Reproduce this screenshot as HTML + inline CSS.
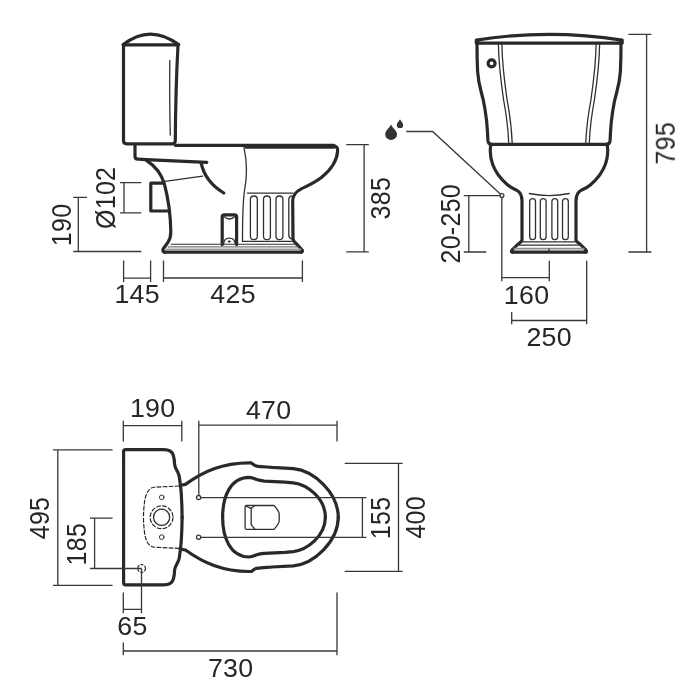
<!DOCTYPE html>
<html lang="en">
<head>
<meta charset="utf-8">
<title>WC dimensions</title>
<style>
html,body{margin:0;padding:0;background:#fff;}
body{width:700px;height:700px;overflow:hidden;}
svg{display:block;}
.k{fill:none;stroke:#292929;stroke-width:3.2;stroke-linecap:round;stroke-linejoin:round;}
.m{fill:none;stroke:#1d1d1b;stroke-width:1.4;stroke-linecap:round;stroke-linejoin:round;}
.t{fill:none;stroke:#303030;stroke-width:1.3;stroke-linecap:round;stroke-linejoin:round;}
.d{fill:none;stroke:#383838;stroke-width:1.3;}
.ds{fill:none;stroke:#222;stroke-width:1.15;stroke-dasharray:4.6 1.4;}
text{font-family:"Liberation Sans",sans-serif;font-size:25px;fill:#262626;letter-spacing:0.3px;}
</style>
</head>
<body>
<svg width="700" height="700" viewBox="0 0 700 700">
<rect width="700" height="700" fill="#fff"/>

<!-- ================= SIDE VIEW ================= -->
<g id="side">
  <!-- tank -->
  <path class="k" d="M123.2 44.6 Q150 23.5 178.6 44.6"/>
  <path class="k" d="M123.2 44.8 H178.6"/>
  <path class="k" d="M123.5 45 V140.8 Q123.5 143.8 126.8 143.8 H172.4 Q175.2 143.8 175.3 140.8 Q175.6 90 178 45"/>
  <path class="t" d="M169.8 60.5 Q169.4 100 170.3 135"/>
  <!-- rim -->
  <path class="k" d="M175.4 145.3 H334"/>
  <path class="k" d="M246 147.1 H334"/>
  <path class="k" d="M334 146.2 Q338 146.4 337.6 151 C337.2 160 333 168 321.4 177.6 C313 184 305 187 300.8 189.1 C296 191.6 292.9 195 292.7 200.7 L293 239 C293.4 241.6 295 242.6 297.2 244.6 L302.2 250 Q303.2 252.1 301 252.1"/>
  <!-- under tank -->
  <path class="k" d="M135 145.5 V156.4 Q135 159 138 159.2 L146.2 159.7 L206.8 162.3"/>
  <path class="k" d="M146.4 160.4 C156 166.5 161.5 174.5 164.4 184 C167.8 197 170.6 214 170.8 231.4 C170.8 236 170.2 238.5 168.4 241.4 C166.8 244.4 164.4 246.8 163 249.2 Q162.2 252.1 165 252.1"/>
  <!-- outlet pipe -->
  <path class="k" d="M162.6 183.2 H150.8 V211 H169.6"/>
  <path class="t" d="M165 181.4 L202.6 176.1"/>
  <path class="k" d="M201.2 163.4 Q205.4 182 223.8 193"/>
  <!-- inner thin contour -->
  <path class="t" d="M244 147.6 C247.4 163 247.2 176 244.6 190 C243 200 242.5 210 242.5 241.4 H293"/>
  <!-- flutes -->
  <path class="t" d="M247.4 193.1 H293"/>
  <rect class="t" x="250.4" y="196" width="6.9" height="43.6" rx="3.45"/>
  <rect class="t" x="263.5" y="196" width="6.9" height="43.6" rx="3.45"/>
  <rect class="t" x="276" y="196" width="6.9" height="43.6" rx="3.45"/>
  <path class="t" d="M291.6 239 Q288.8 238 288.8 235 V199.5 Q288.8 196.4 291.6 195.8"/>
  <!-- bolt cover -->
  <path class="k" d="M222.2 244.6 V216.8 Q222.2 214.8 224.2 214.8 H234.6 Q236.6 214.8 236.6 216.8 V244.6"/>
  <path class="t" d="M223.8 216.6 Q229.4 221.4 235 216.6"/>
  <path class="t" d="M223.6 244 Q224 238.2 229.4 238.2 Q234.8 238.2 235.2 244"/>
  <ellipse cx="229.2" cy="241.5" rx="1.5" ry="1" fill="#222"/>
  <!-- base -->
  <path class="t" style="stroke-width:1.1" d="M171.2 244.3 H296"/>
  <path class="t" style="stroke-width:1;stroke:#555" d="M168 246.9 H299"/>
  <path d="M165.4 249.3 H301.4" fill="none" stroke="#a0a0a0" stroke-width="1.6"/>
  <path class="k" d="M164 252.1 H301.6"/>
</g>

<!-- side dims -->
<g class="d">
  <path d="M73.3 197.4 H87 M78.3 197.4 V251.5 M73.3 251.5 H141.3"/>
  <path d="M120 182.7 H141.3 M120 212.8 H141.3 M124 182.7 V212.8"/>
  <path d="M123.6 260.6 V282 M150.6 260.6 V282 M123.6 278.1 H150.6"/>
  <path d="M163.5 260.6 V282 M302.4 260.6 V282 M163.5 278 H302.4"/>
  <path d="M346.3 144.6 H368.8 M346.3 251.8 H368.8 M364.1 144.6 V251.8"/>
</g>

<!-- ================= FRONT VIEW ================= -->
<g id="front">
  <path class="k" d="M476.3 40.2 Q549.2 28.4 622.2 40.2 V43.1 H476.3 Z"/>
  <g id="fh">
    <path class="k" d="M477 44 C477 55 477.2 63 477.6 71.4 C478.2 80 479.5 86 481.2 92 C483 98 484.2 104 485.1 110 C486.4 118 487.2 125 487.5 132.1 L487.9 140.4 Q488.2 144.2 491.4 144.3"/>
    <path class="t" d="M498.4 44.5 C498.6 60 500 75 503.6 100 C505.5 110 508 125 508.7 143"/>
    <path class="t" d="M501.9 44.5 C502.1 60 503.5 75 507.1 100 C509 110 511.5 125 512.2 143"/>
    <path class="k" d="M490.6 146 C489.8 152 490.4 158 492.6 164.3 C495 171 499.5 178 507.4 184.8 C511 187.8 514 189 516.9 190.4 C520.4 192 521.8 194.4 522 200.7 V240.4 C521.4 241.8 520 242.6 518.1 244 L512 250.2 Q510.4 252.1 513 252.1"/>
    <rect class="t" x="529.7" y="198.6" width="5.8" height="41" rx="2.9"/>
    <rect class="t" x="540.3" y="198.6" width="5.8" height="41" rx="2.9"/>
  </g>
  <g transform="translate(1098 0) scale(-1 1)">
    <path class="k" d="M477 44 C477 55 477.2 63 477.6 71.4 C478.2 80 479.5 86 481.2 92 C483 98 484.2 104 485.1 110 C486.4 118 487.2 125 487.5 132.1 L487.9 140.4 Q488.2 144.2 491.4 144.3"/>
    <path class="t" d="M498.4 44.5 C498.6 60 500 75 503.6 100 C505.5 110 508 125 508.7 143"/>
    <path class="t" d="M501.9 44.5 C502.1 60 503.5 75 507.1 100 C509 110 511.5 125 512.2 143"/>
    <path class="k" d="M490.6 146 C489.8 152 490.4 158 492.6 164.3 C495 171 499.5 178 507.4 184.8 C511 187.8 514 189 516.9 190.4 C520.4 192 521.8 194.4 522 200.7 V240.4 C521.4 241.8 520 242.6 518.1 244 L512 250.2 Q510.4 252.1 513 252.1"/>
    <rect class="t" x="529.7" y="198.6" width="5.8" height="41" rx="2.9"/>
    <rect class="t" x="540.3" y="198.6" width="5.8" height="41" rx="2.9"/>
  </g>
  <circle class="k" cx="491.6" cy="63.3" r="3.5"/>
  <path class="k" d="M490 144.3 H608"/>
  <path class="t" d="M529.2 193.5 Q549 197.6 569.2 193.5"/>
  <path class="t" d="M521.4 241.8 H576.6"/>
  <path class="t" d="M516.4 245.1 H581.6"/>
  <path d="M513.6 248.7 H584.4" fill="none" stroke="#8f8f8f" stroke-width="1.8"/>
  <path class="k" d="M512 252.1 H586"/>
  <path class="t" d="M549 249 V251"/>
</g>
<g class="d">
  <path d="M628.4 34.4 H651.4 M628.4 252 H651.4 M646.6 34.4 V252"/>
  <path d="M406.2 131.5 H432.6 L500.6 194.2"/>
  <circle cx="502" cy="195.6" r="1.9"/>
  <path d="M463.8 195.6 H500 M463.8 252 H486.3 M468.8 195.6 V252"/>
  <path d="M501.8 197.5 V281.3 M549.3 260.8 V281.3 M501.8 277.6 H549.3"/>
  <path d="M511.7 312 V324.3 M586.7 260.8 V324.3 M511.7 320.5 H586.7"/>
</g>
<path d="M391 124.6 C393 128.4 397 131.2 397 134.2 A5.9 5.9 0 0 1 385.2 134.2 C385.2 131.2 389 128.4 391 124.6 Z" fill="#333"/>
<path d="M400 119.2 C401.1 121.4 403.2 123 403.2 124.9 A3.2 3.2 0 0 1 396.8 124.9 C396.8 123 398.9 121.4 400 119.2 Z" fill="#333"/>

<!-- ================= PLAN VIEW ================= -->
<g id="plan">
  <g id="ph">
    <path class="k" d="M123.6 517.6 V451.6 Q123.6 449.6 125.6 449.6 H163.8 C168.8 449.6 172 451.4 173.2 455 C174.2 458 174.5 461 174.6 464.2 C174.8 466.4 175.4 467.6 176.1 468.9 L178 472.6 C178.8 474.4 179.2 475.8 179.4 477.3 L180.2 483.7 C180.8 487.5 181.1 491 181.3 494 L181.9 506.8 L182.1 517.6"/>
    <path class="k" d="M180.4 485.3 L185.4 484.4 C203 472 222 462.4 251.4 462.9 C253.6 464.6 254.6 465.6 256.7 466.1 C262 466.8 268 467 272.1 467.4 L293.3 468.6 C314 470.5 338.3 493 338.3 517.6"/>
    <path class="k" d="M222.6 517.6 C222.6 497 230 477.6 249 477.4 C252 477.6 254.4 478.6 256.7 479.6 C259.4 480.6 262 480.9 264.4 481.1 L285 482.1 L293.3 482.8 C307 484.4 325.4 498 325.4 517.6"/>
    <path class="ds" d="M179.3 486 L154 487.2 C151 487.6 148.6 489.6 147.1 492.7 C145.4 496.4 144.6 500 144.3 504.3 C143.8 508 143.5 512 143.5 517.2"/>
    <circle class="t" cx="161.7" cy="497.3" r="2.3" style="stroke-width:1"/>
  </g>
  <g transform="translate(0 1034.4) scale(1 -1)">
    <path class="k" d="M123.6 517.6 V451.6 Q123.6 449.6 125.6 449.6 H163.8 C168.8 449.6 172 451.4 173.2 455 C174.2 458 174.5 461 174.6 464.2 C174.8 466.4 175.4 467.6 176.1 468.9 L178 472.6 C178.8 474.4 179.2 475.8 179.4 477.3 L180.2 483.7 C180.8 487.5 181.1 491 181.3 494 L181.9 506.8 L182.1 517.6"/>
    <path class="k" d="M180.4 485.3 L185.4 484.4 C203 472 222 462.4 251.4 462.9 C253.6 464.6 254.6 465.6 256.7 466.1 C262 466.8 268 467 272.1 467.4 L293.3 468.6 C314 470.5 338.3 493 338.3 517.6"/>
    <path class="k" d="M222.6 517.6 C222.6 497 230 477.6 249 477.4 C252 477.6 254.4 478.6 256.7 479.6 C259.4 480.6 262 480.9 264.4 481.1 L285 482.1 L293.3 482.8 C307 484.4 325.4 498 325.4 517.6"/>
    <path class="ds" d="M179.3 486 L154 487.2 C151 487.6 148.6 489.6 147.1 492.7 C145.4 496.4 144.6 500 144.3 504.3 C143.8 508 143.5 512 143.5 517.2"/>
    <circle class="t" cx="161.7" cy="497.3" r="2.3" style="stroke-width:1"/>
  </g>
  <!-- outlet -->
  <path class="t" d="M246.6 505.5 H274 Q277.6 509 279.2 513.4 V521.4 Q277.6 526 274 529.4 H246.6 Q245.1 529.4 245.1 527.9 V507 Q245.1 505.5 246.6 505.5 Z"/>
  <path class="t" d="M251.2 508.6 V524.6 L254.8 529.2 M245.8 506 L251.2 508.6 L254.4 505.7"/>
  <circle class="ds" cx="161.6" cy="517.3" r="11.4"/>
  <circle class="t" cx="161.6" cy="517.3" r="8.1"/>
  <circle class="ds" cx="141.6" cy="568.5" r="3.9" style="stroke-dasharray:3 1.2"/>
</g>
<g class="d">
  <circle cx="198.6" cy="497.6" r="2.1"/>
  <circle cx="198.6" cy="537.3" r="2.1"/>
  <path d="M200.7 497.6 H366.4 M200.7 537.3 H366.4 M362.4 497.6 V537.3"/>
  <path d="M123.3 420.7 V441.4 M181.8 420.7 V441.4 M123.3 425.6 H181.8"/>
  <path d="M198.8 420.7 V495.5 M337 420.7 V441.4 M198.8 425.2 H337"/>
  <path d="M344.7 463.3 H402.6 M344.7 571.3 H402.6 M398.5 463.3 V571.3"/>
  <path d="M53 449.8 H112.6 M53 585.3 H112.6 M57.8 449.8 V585.3"/>
  <path d="M90 518.1 H112.6 M90 568.5 H141.6 M94.6 518.1 V568.5"/>
  <path d="M141.5 568.5 V613.3 M123.3 592.6 V613.3 M123.3 609.3 H141.5"/>
  <path d="M123.3 642.6 V655.3 M337 592.6 V655.3 M123.3 651 H337"/>
</g>
<g id="labels" style="filter:grayscale(1)">
<text transform="translate(114.38 302.8) scale(1.07 1)">145</text>
<text transform="translate(210.28 302.6) scale(1.07 1)">425</text>
<text transform="translate(503.78 303.5) scale(1.07 1)">160</text>
<text transform="translate(526.38 345.9) scale(1.07 1)">250</text>
<text transform="translate(129.88 417.2) scale(1.07 1)">190</text>
<text transform="translate(245.88 418.7) scale(1.07 1)">470</text>
<text transform="translate(117.34 634.7) scale(1.07 1)">65</text>
<text transform="translate(207.88 677) scale(1.07 1)">730</text>
<text transform="translate(70.9 246.2) scale(1.07 1) rotate(-90)">190</text>
<text transform="translate(115 229.05) scale(1.07 1) rotate(-90)">Ø102</text>
<text transform="translate(389.7 219.5) scale(1.07 1) rotate(-90)">385</text>
<text transform="translate(459.9 263.55) scale(1.07 1) rotate(-90)">20-250</text>
<text transform="translate(674.4 164.6) scale(1.07 1) rotate(-90)">795</text>
<text transform="translate(48.9 539.3) scale(1.07 1) rotate(-90)">495</text>
<text transform="translate(86.1 565.4) scale(1.07 1) rotate(-90)">185</text>
<text transform="translate(389.9 539.2) scale(1.07 1) rotate(-90)">155</text>
<text transform="translate(425.4 538.6) scale(1.07 1) rotate(-90)">400</text>
</g>
</svg>
</body>
</html>
